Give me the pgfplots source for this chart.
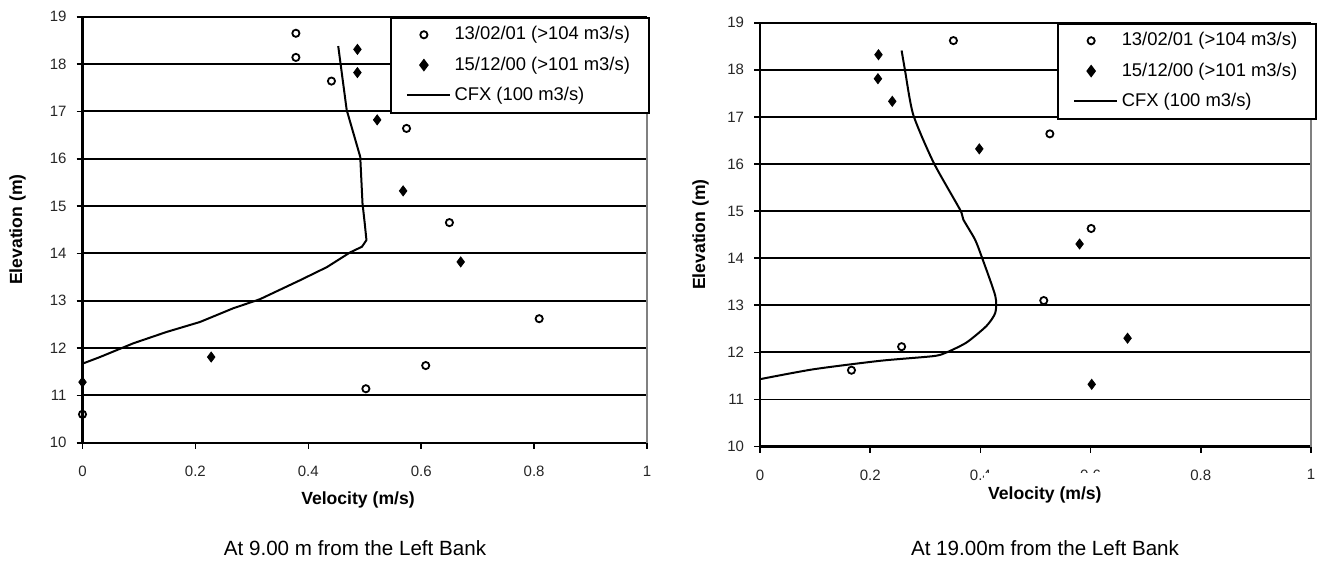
\documentclass[border=0pt]{standalone}
\usepackage{pgfplots}
\pgfplotsset{compat=1.18}
\usepackage{fontspec}
\setmainfont{Liberation Sans}

\pgfplotstableread{
x y
0.378 18.65
0.378 18.14
0.441 17.64
0.574 16.64
0.650 14.65
0.809 12.62
0.608 11.63
0.502 11.14
0.000 10.60
}\leftopen
\pgfplotstableread{
x y
0.487 18.31
0.487 17.82
0.522 16.82
0.568 15.32
0.670 13.82
0.228 11.81
0.000 11.28
}\leftfilled
\pgfplotstableread{
x y
0.000 11.67
0.031 11.81
0.090 12.10
0.149 12.34
0.208 12.55
0.267 12.84
0.314 13.03
0.385 13.43
0.433 13.71
0.474 14.02
0.495 14.14
0.503 14.28
0.500 14.63
0.496 15.06
0.492 16.04
0.468 17.03
0.453 18.38
}\leftcfx
\pgfplotstableread{
x y
0.351 18.62
0.526 16.64
0.601 14.63
0.515 13.10
0.257 12.12
0.166 11.62
}\rightopen
\pgfplotstableread{
x y
0.215 18.32
0.214 17.81
0.240 17.33
0.398 16.32
0.580 14.30
0.667 12.30
0.602 11.32
}\rightfilled
\pgfplotstableread{
x y
0.000 11.43
0.097 11.64
0.218 11.82
0.315 11.92
0.339 12.00
0.375 12.21
0.411 12.56
0.427 12.84
0.427 13.20
0.402 14.04
0.390 14.40
0.369 14.82
0.363 15.03
0.315 16.03
0.278 17.05
0.263 18.00
0.257 18.41
}\rightcfx

\pgfplotsset{
  velo/.style={
    scale only axis,
    anchor=south west,
    xmin=0, xmax=1, ymin=10, ymax=19,
    xtick={0,0.2,0.4,0.6,0.8,1},
    ytick={10,11,...,19},
    axis x line*=bottom, axis y line*=left,
    axis line style={-, black, line width=1.1pt},
    ymajorgrids,
    major grid style={black, line width=0.9pt},
    tick align=outside, major tick length=3pt,
    tick style={black, line width=0.8pt},
    /pgf/number format/assume math mode=true,
    tick label style={font=\fontsize{7.5}{9}\selectfont, text=black!85},
    x tick label style={yshift=-5pt},
    y tick label style={xshift=-1.5pt},
    xlabel={Velocity (m/s)},
    ylabel={Elevation (m)},
    label style={font=\bfseries\fontsize{8.8}{10}\selectfont},
    legend cell align=left,
    legend style={anchor=north east, draw=black, line width=0.9pt, fill=white,
      font=\fontsize{9.2}{11}\selectfont, row sep=3pt, inner xsep=7.5pt, inner ysep=2.5pt},
    clip=false,
  },
  openmk/.style={only marks, mark=o, mark size=1.8pt, mark options={line width=0.9pt, black},
    legend image code/.code={\path (0cm,0cm) (0.75cm,0cm); \draw[##1] plot coordinates {(0.3cm,0cm)};}},
  fillmk/.style={only marks, mark=diamond*, mark size=2.5pt, mark options={black, fill=black},
    legend image code/.code={\path (0cm,0cm) (0.75cm,0cm); \draw[##1] plot coordinates {(0.3cm,0cm)};}},
  cfx/.style={no marks, black, line width=1pt,
    legend image code/.code={\draw[##1] (0cm,0cm) -- (0.75cm,0cm);}},
}

\begin{document}
\begin{tikzpicture}
\path[use as bounding box] (0,0) rectangle (660pt,284.5pt);

\begin{axis}[velo,
  at={(41.25pt,63.15pt)}, width=282.25pt, height=213pt,
  xlabel style={at={(axis description cs:0.488,-0.1345)}, anchor=center},
  ylabel style={at={(axis description cs:-0.115,0.5)}, anchor=center},
  legend style={at={(1.005,1.0)}},
]
\draw[gray, line width=0.9pt] (rel axis cs:1,0) -- (rel axis cs:1,1);
\addplot[openmk] table {\leftopen};
\addlegendentry{13/02/01 (>104 m3/s)}
\addplot[fillmk] table {\leftfilled};
\addlegendentry{15/12/00 (>101 m3/s)}
\addplot[cfx] table {\leftcfx};
\addlegendentry{CFX (100 m3/s)}
\end{axis}

\begin{axis}[velo,
  at={(380pt,61.25pt)}, width=275.5pt, height=211.9pt,
  xlabel style={at={(axis description cs:0.517,-0.114)}, anchor=center, fill=white, inner xsep=2pt, inner ysep=7pt},
  ylabel style={at={(axis description cs:-0.108,0.5)}, anchor=center},
  legend style={at={(1.011,1.0)}},
]
\draw[gray, line width=0.9pt] (rel axis cs:1,0) -- (rel axis cs:1,1);
\addplot[openmk] table {\rightopen};
\addlegendentry{13/02/01 (>104 m3/s)}
\addplot[fillmk] table {\rightfilled};
\addlegendentry{15/12/00 (>101 m3/s)}
\addplot[cfx, smooth, tension=0.4] table {\rightcfx};
\addlegendentry{CFX (100 m3/s)}
\end{axis}

\node[font=\fontsize{10.3}{12}\selectfont] at (177.5pt,10.5pt) {At 9.00 m from the Left Bank};
\node[font=\fontsize{10.3}{12}\selectfont] at (522.5pt,10.5pt) {At 19.00m from the Left Bank};
\end{tikzpicture}
\end{document}
